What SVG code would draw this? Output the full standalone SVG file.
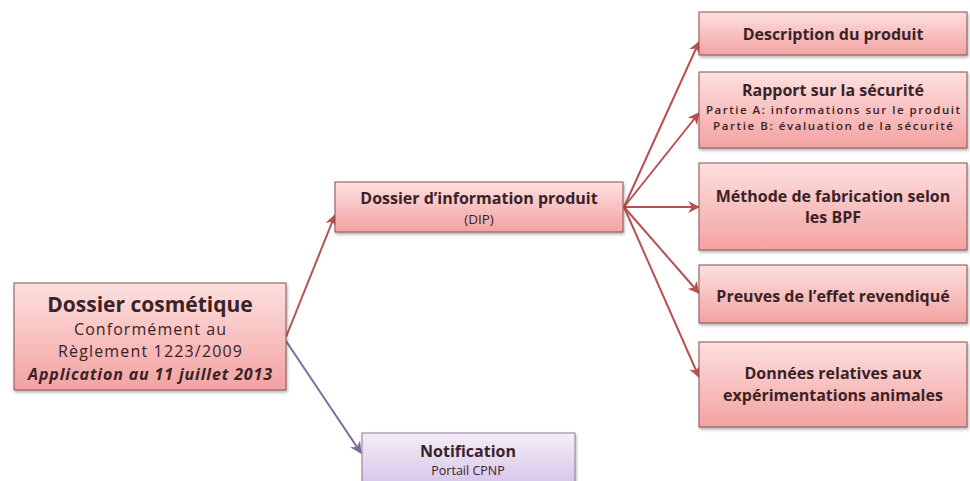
<svg xmlns="http://www.w3.org/2000/svg" width="970" height="481" viewBox="0 0 970 481">
<defs>
<linearGradient id="gRed" x1="0" y1="0" x2="0" y2="1">
<stop offset="0" stop-color="#fde0df"/>
<stop offset="1" stop-color="#f3a2a2"/>
</linearGradient>
<linearGradient id="gPur" x1="0" y1="0" x2="0" y2="1">
<stop offset="0" stop-color="#f4eef8"/>
<stop offset="1" stop-color="#d3bfe6"/>
</linearGradient>
<filter id="sh" x="-10%" y="-10%" width="120%" height="130%">
<feDropShadow dx="1" dy="2" stdDeviation="1.5" flood-color="#000" flood-opacity="0.3"/>
</filter>
<marker id="aR" viewBox="0 0 10 10" refX="9" refY="5" markerWidth="6" markerHeight="6" orient="auto">
<path d="M0,0 L10,5 L0,10 L3,5 z" fill="#b9504f"/>
</marker>
<marker id="aP" viewBox="0 0 10 10" refX="9" refY="5" markerWidth="6" markerHeight="6" orient="auto">
<path d="M0,0 L10,5 L0,10 L3,5 z" fill="#7d6a9c"/>
</marker>
</defs>
<style>
.box{fill:url(#gRed);stroke:#8c4e4e;stroke-width:1;filter:url(#sh)}
.pbox{fill:url(#gPur);stroke:#8a7f96;stroke-width:1;filter:url(#sh)}
text{font-family:"Open Sans","Liberation Sans",sans-serif;fill:#3a2326;text-anchor:middle}
.b{font-weight:bold}
.t{font-weight:bold;font-size:16px}
.r{stroke:#b9504f;stroke-width:2;fill:none;marker-end:url(#aR)}
.p{stroke:#7d6a9c;stroke-width:2;fill:none;marker-end:url(#aP)}
</style>
<rect width="970" height="481" fill="#ffffff"/>
<g id="connectors">
<line class="r" x1="286" y1="337" x2="335" y2="215"/>
<line class="p" x1="286" y1="341" x2="361" y2="453"/>
<line class="r" x1="624" y1="207" x2="699" y2="42"/>
<line class="r" x1="624" y1="207" x2="699" y2="113"/>
<line class="r" x1="624" y1="207" x2="699" y2="207"/>
<line class="r" x1="624" y1="207" x2="699" y2="293"/>
<line class="r" x1="624" y1="207" x2="699" y2="377"/>
</g>
<g id="dossier">
<rect class="box" x="14" y="283" width="272" height="107"/>
<text class="b" x="150" y="312" font-size="21">Dossier cosmétique</text>
<text x="150" y="335" font-size="16" textLength="152" lengthAdjust="spacing">Conformément au</text>
<text x="150" y="357" font-size="16" textLength="184" lengthAdjust="spacing">Règlement 1223/2009</text>
<text class="b" x="150" y="380" font-size="16" font-style="italic" textLength="244" lengthAdjust="spacing">Application au 11 juillet 2013</text>
</g>
<g id="dip">
<rect class="box" x="335" y="182" width="288" height="50"/>
<text class="t" x="479" y="204">Dossier d’information produit</text>
<text x="479" y="224" font-size="13.5">(DIP)</text>
</g>
<g id="notification">
<rect class="pbox" x="362" y="433" width="213" height="60"/>
<text class="t" x="468" y="457">Notification</text>
<text x="468" y="475" font-size="12.5">Portail CPNP</text>
</g>
<g id="description">
<rect class="box" x="699" y="12" width="268" height="43"/>
<text class="t" x="833" y="40">Description du produit</text>
</g>
<g id="rapport">
<rect class="box" x="699" y="72" width="268" height="76"/>
<text class="t" x="833" y="96">Rapport sur la sécurité</text>
<text x="833" y="114" font-size="11.5" font-weight="600" textLength="254" lengthAdjust="spacing">Partie A: informations sur le produit</text>
<text x="833" y="130" font-size="11.5" font-weight="600" textLength="240" lengthAdjust="spacing">Partie B: évaluation de la sécurité</text>
</g>
<g id="methode">
<rect class="box" x="699" y="163" width="268" height="87"/>
<text class="t" x="833" y="202">Méthode de fabrication selon</text>
<text class="t" x="833" y="223">les BPF</text>
</g>
<g id="preuves">
<rect class="box" x="699" y="265" width="268" height="58"/>
<text class="t" x="833" y="302">Preuves de l’effet revendiqué</text>
</g>
<g id="donnees">
<rect class="box" x="699" y="342" width="268" height="85"/>
<text class="t" x="833" y="379">Données relatives aux</text>
<text class="t" x="833" y="401">expérimentations animales</text>
</g>
</svg>
